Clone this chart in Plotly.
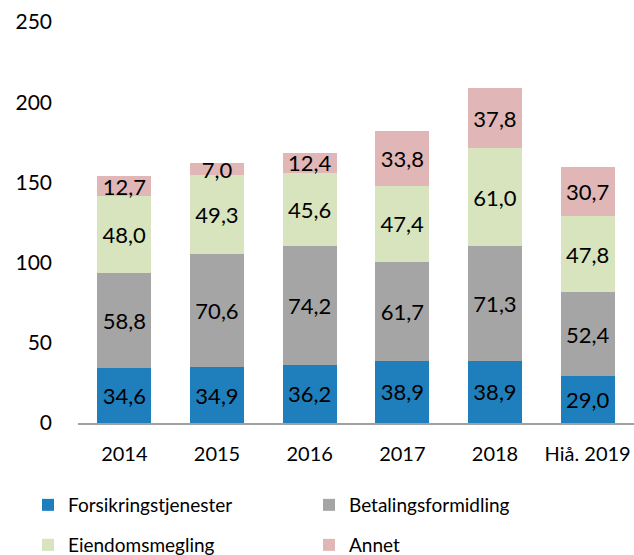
import plotly.graph_objects as go

years = ['2014', '2015', '2016', '2017', '2018', 'Hiå. 2019']
forsikring = [34.6, 34.9, 36.2, 38.9, 38.9, 29.0]
betaling = [58.8, 70.6, 74.2, 61.7, 71.3, 52.4]
eiendom = [48.0, 49.3, 45.6, 47.4, 61.0, 47.8]
annet = [12.7, 7.0, 12.4, 33.8, 37.8, 30.7]

W, H = 634, 555
FONT = 'Lato'

series = [
    ('Forsikringstjenester', forsikring, '#1f7fbc', 'legend', 28, 505),
    ('Betalingsformidling', betaling, '#a5a5a5', 'legend2', 309, 505),
    ('Eiendomsmegling', eiendom, '#d7e4bd', 'legend3', 28, 545),
    ('Annet', annet, '#e0b6b6', 'legend4', 309, 545),
]

fig = go.Figure()
legends = {}
for name, vals, color, leg, lx, ly in series:
    fig.add_trace(go.Bar(
        x=years, y=vals, name=name, marker_color=color, marker_line_width=0,
        text=[f'{v:.1f}'.replace('.', ',') for v in vals],
        textposition='inside', insidetextanchor='middle', constraintext='none',
        textfont=dict(family=FONT, size=22, color='black'),
        legend=leg, showlegend=True,
    ))
    legends[leg] = dict(
        x=lx / W, y=1 - ly / H, xref='container', yref='container',
        xanchor='left', yanchor='middle', orientation='h',
        font=dict(family=FONT, size=19, color='black'),
        bgcolor='rgba(0,0,0,0)', itemclick=False, visible=True,
    )

fig.update_layout(
    width=W, height=H,
    margin=dict(l=78, r=0, t=22, b=132),
    barmode='stack', bargap=0.42, showlegend=True,
    plot_bgcolor='white', paper_bgcolor='white',
    font=dict(family=FONT, size=21, color='black'),
    xaxis=dict(showline=True, linecolor='#a0a0a0', linewidth=2, ticks='',
               tickfont=dict(size=20), ticklabelstandoff=12, automargin=False),
    yaxis=dict(range=[0, 250], dtick=50, showgrid=False, zeroline=False, showline=False,
               tickfont=dict(size=21), ticklabelstandoff=25, automargin=False),
    **legends,
)

# drop the default body margin so the figure fills the window exactly
fig.write_html('out.html', config={'displayModeBar': False},
               post_script="document.body.style.margin='0';"
                           "document.body.style.overflow='hidden';")
